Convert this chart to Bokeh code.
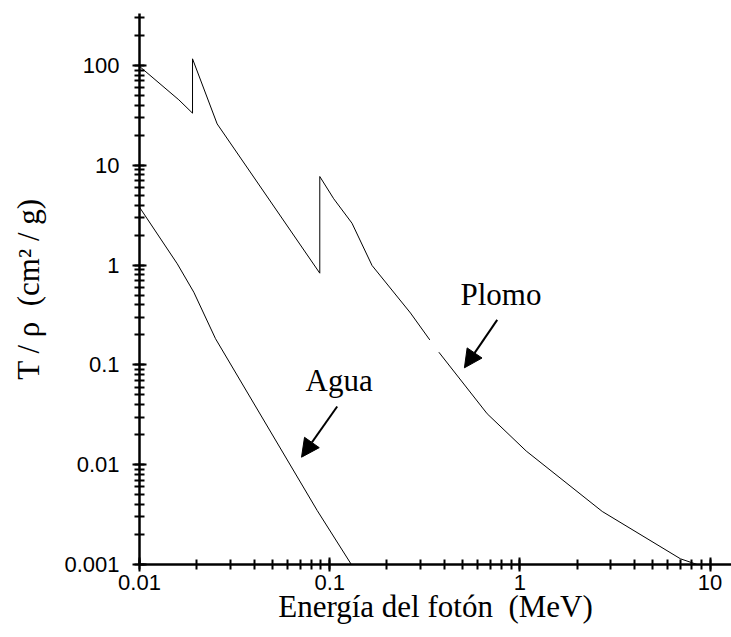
import math
from bokeh.plotting import figure
from bokeh.models import Label, Arrow, NormalHead, CustomJSTickFormatter, Range1d
from bokeh.embed import file_html
from bokeh.resources import INLINE

NaN = float("nan")

# Plomo (lead) curve, energy in MeV and T/rho in cm^2/g (NaN = break in the drawn line)
plomo_energia = [0.0100, 0.0161, 0.0190, 0.0190, 0.0256, 0.0887, 0.0887, 0.105, 0.131,
                 0.167, 0.266, 0.336, NaN, 0.375, 0.673, 1.08, 2.71, 6.99, 8.55]
plomo_tr = [98.0, 45.3, 33.3, 116.7, 26.0, 0.830, 7.72, 4.62, 2.63,
            0.991, 0.331, 0.178, NaN, 0.134, 0.0324, 0.0137, 0.0034, 0.00114, 0.00100]

# Agua (water) curve
agua_energia = [0.0100, 0.0158, 0.0193, 0.0251, 0.0860, 0.130]
agua_tr = [3.80, 1.03, 0.535, 0.183, 0.00347, 0.00100]

x_label = "Energía del fotón \u00a0(MeV)"
y_label = "T / ρ \u00a0(cm² / g)"

SERIF = "Liberation Serif"
SANS = "Liberation Sans"

p = figure(width=731, height=637, x_axis_type="log", y_axis_type="log",
           x_range=Range1d(0.01, 12.96), y_range=Range1d(0.001, 332),
           output_backend="svg", toolbar_location=None,
           min_border_left=139, min_border_right=0, min_border_top=13, min_border_bottom=73)
p.outline_line_color = None
p.grid.visible = False
p.background_fill_color = "white"
p.border_fill_color = "white"

p.line(plomo_energia, plomo_tr, line_color="black", line_width=1)
p.line(agua_energia, agua_tr, line_color="black", line_width=1)

fmt = CustomJSTickFormatter(code="return Number(tick.toPrecision(6)).toString();")
for ax in (p.xaxis[0], p.yaxis[0]):
    ax.formatter = fmt
    ax.axis_line_width = 2.5
    ax.axis_line_color = "black"
    ax.major_tick_line_width = 2
    ax.minor_tick_line_width = 2
    ax.major_tick_line_color = "black"
    ax.minor_tick_line_color = "black"
    ax.major_tick_in = 7
    ax.major_tick_out = 7
    ax.minor_tick_in = 5
    ax.minor_tick_out = 5
    ax.major_label_text_font = SANS
    ax.major_label_text_font_size = "22px"
    ax.major_label_text_color = "black"
    ax.axis_label_text_font = SERIF
    ax.axis_label_text_font_size = "31px"
    ax.axis_label_text_font_style = "normal"
    ax.axis_label_text_color = "black"

p.xaxis.axis_label = x_label
p.yaxis.axis_label = y_label
p.xaxis.major_label_standoff = 3
p.xaxis.axis_label_standoff = -4
p.yaxis.major_label_standoff = 13
p.yaxis.axis_label_standoff = 15

p.add_layout(Label(x=0.487, y=0.507, text="Plomo", text_font=SERIF, text_font_size="31px",
                   text_color="black", text_baseline="alphabetic", text_align="left"))
p.add_layout(Label(x=0.0746, y=0.0698, text="Agua", text_font=SERIF, text_font_size="31px",
                   text_color="black", text_baseline="alphabetic", text_align="left"))

p.add_layout(Arrow(end=NormalHead(size=18, fill_color="black", line_color="black"),
                   x_start=0.760, y_start=0.283, x_end=0.511, y_end=0.0935,
                   line_width=2, line_color="black"))
p.add_layout(Arrow(end=NormalHead(size=18, fill_color="black", line_color="black"),
                   x_start=0.1095, y_start=0.0383, x_end=0.0711, y_end=0.01189,
                   line_width=2, line_color="black"))

open("out.html", "w").write(file_html(p, INLINE))
